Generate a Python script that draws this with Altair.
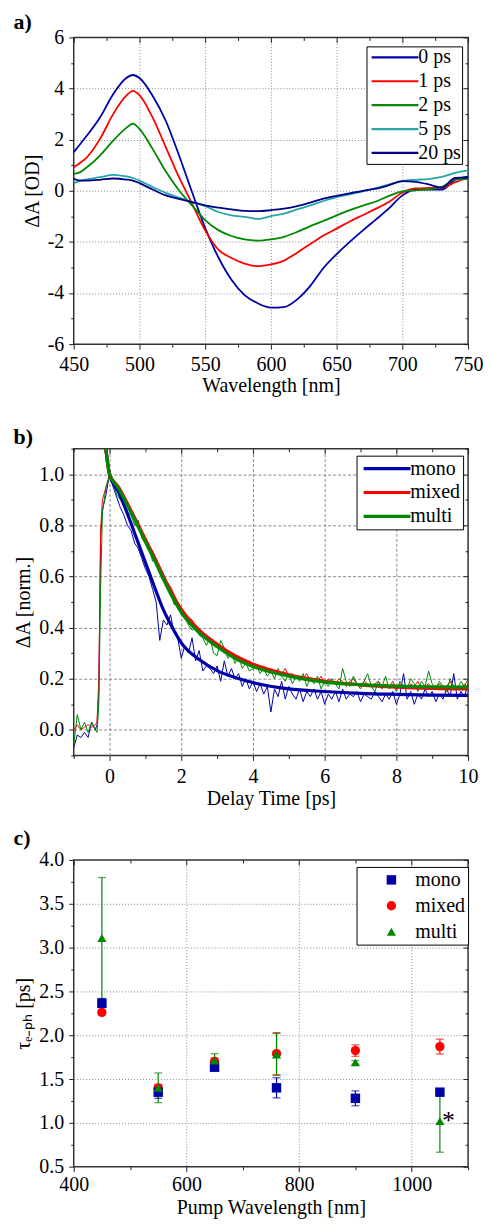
import altair as alt
import pandas as pd

FONT = "Liberation Serif"
GRID = "#8a8a8a"

# ---------------- panel a: transient spectra ----------------
WL = [450, 455, 460, 470, 480, 490, 495, 500, 510, 520, 530, 540, 550, 560, 570, 580, 590,
      600, 610, 620, 630, 640, 650, 660, 670, 680, 690, 700, 710, 720, 730, 740, 750]
A_0PS = [1.51, 1.83, 2.16, 2.87, 3.78, 4.41, 4.53, 4.41, 3.72, 2.74, 1.40, -0.05, -1.45, -2.60, -3.48, -4.08, -4.40,
         -4.57, -4.55, -4.25, -3.72, -3.02, -2.48, -2.00, -1.55, -1.12, -0.68, -0.18, 0.05, 0.05, 0.05, 0.42, 0.55]
A_1PS = [0.92, 1.10, 1.31, 2.03, 3.00, 3.72, 3.91, 3.74, 2.87, 1.71, 0.54, -0.50, -1.55, -2.30, -2.63, -2.85, -2.95,
         -2.88, -2.73, -2.42, -2.08, -1.75, -1.48, -1.20, -0.95, -0.70, -0.43, -0.07, 0.09, 0.11, 0.12, 0.33, 0.51]
A_2PS = [0.66, 0.73, 0.92, 1.38, 1.96, 2.46, 2.63, 2.42, 1.64, 0.76, 0.02, -0.57, -1.15, -1.54, -1.77, -1.90, -1.95,
         -1.90, -1.80, -1.61, -1.38, -1.18, -0.96, -0.76, -0.58, -0.42, -0.20, -0.02, 0.02, 0.06, 0.15, 0.44, 0.47]
A_5PS = [0.30, 0.40, 0.45, 0.53, 0.62, 0.56, 0.50, 0.40, 0.15, -0.08, -0.27, -0.44, -0.60, -0.83, -0.96, -1.02, -1.10,
         -0.99, -0.89, -0.73, -0.57, -0.40, -0.25, -0.14, -0.02, 0.10, 0.25, 0.38, 0.43, 0.46, 0.54, 0.70, 0.80]
A_20PS = [0.47, 0.40, 0.40, 0.43, 0.48, 0.44, 0.40, 0.30, 0.05, -0.18, -0.32, -0.44, -0.57, -0.66, -0.73, -0.79, -0.80,
          -0.76, -0.70, -0.60, -0.46, -0.31, -0.20, -0.10, 0.00, 0.08, 0.22, 0.38, 0.35, 0.25, 0.12, 0.50, 0.52]
A_SERIES = ["0 ps", "1 ps", "2 ps", "5 ps", "20 ps"]
A_COLORS = ["#0000A8", "#FF0000", "#008800", "#26A6A6", "#000088"]

# ---------------- panel b: kinetics ----------------
T = [-1.0, -0.9, -0.8, -0.7, -0.6, -0.5, -0.4, -0.35, -0.3, -0.25, -0.2, -0.1,
     0.0, 0.1, 0.2, 0.3, 0.4, 0.5, 0.6, 0.7, 0.8, 0.9,
     1.0, 1.1, 1.2, 1.3, 1.4, 1.5, 1.6, 1.7, 1.8, 1.9,
     2.0, 2.1, 2.2, 2.3, 2.4, 2.5, 2.6, 2.7, 2.8, 2.9,
     3.0, 3.1, 3.2, 3.3, 3.4, 3.5, 3.6, 3.7, 3.8, 3.9,
     4.0, 4.1, 4.2, 4.3, 4.4, 4.5, 4.6, 4.7, 4.8, 4.9,
     5.0, 5.1, 5.2, 5.3, 5.4, 5.5, 5.6, 5.7, 5.8, 5.9,
     6.0, 6.1, 6.2, 6.3, 6.4, 6.5, 6.6, 6.7, 6.8, 6.9,
     7.0, 7.1, 7.2, 7.3, 7.4, 7.5, 7.6, 7.7, 7.8, 7.9,
     8.0, 8.1, 8.2, 8.3, 8.4, 8.5, 8.6, 8.7, 8.8, 8.9,
     9.0, 9.1, 9.2, 9.3, 9.4, 9.5, 9.6, 9.7, 9.8, 9.9,
     10.0]
MONO_RAW = [-0.07, -0.02, -0.03, -0.01, -0.03, 0.03, 0.00, 0.02, 0.15, 0.75, 0.86, 0.92,
            1.00, 0.95, 0.91, 0.87, 0.84, 0.80, 0.78, 0.73, 0.71, 0.67,
            0.63, 0.60, 0.55, 0.50, 0.35, 0.43, 0.41, 0.45, 0.38, 0.36,
            0.28, 0.33, 0.30, 0.36, 0.27, 0.31, 0.23, 0.25, 0.24, 0.22,
            0.25, 0.19, 0.27, 0.21, 0.24, 0.20, 0.22, 0.17, 0.20, 0.16,
            0.19, 0.15, 0.18, 0.14, 0.17, 0.07, 0.16, 0.13, 0.19, 0.12,
            0.17, 0.14, 0.12, 0.16, 0.11, 0.15, 0.13, 0.16, 0.12, 0.15,
            0.10, 0.14, 0.12, 0.15, 0.11, 0.16, 0.12, 0.14, 0.13, 0.15,
            0.11, 0.14, 0.13, 0.12, 0.15, 0.13, 0.11, 0.14, 0.12, 0.15,
            0.10, 0.14, 0.22, 0.12, 0.15, 0.10, 0.14, 0.12, 0.16, 0.13,
            0.15, 0.11, 0.14, 0.12, 0.16, 0.13, 0.22, 0.12, 0.15, 0.13,
            0.18]
MIXED_RAW = [0.00, 0.02, 0.00, 0.01, 0.02, 0.01, 0.02, 0.03, 0.20, 0.78, 0.90, 0.95,
             1.00, 0.97, 0.95, 0.92, 0.90, 0.88, 0.85, 0.83, 0.80, 0.78,
             0.75, 0.72, 0.70, 0.67, 0.64, 0.61, 0.58, 0.56, 0.53, 0.50,
             0.48, 0.46, 0.44, 0.43, 0.41, 0.39, 0.37, 0.36, 0.35, 0.33,
             0.34, 0.32, 0.31, 0.30, 0.30, 0.28, 0.28, 0.27, 0.26, 0.27,
             0.25, 0.25, 0.24, 0.25, 0.23, 0.24, 0.22, 0.23, 0.22, 0.24,
             0.21, 0.22, 0.20, 0.21, 0.20, 0.22, 0.19, 0.20, 0.19, 0.21,
             0.18, 0.20, 0.19, 0.18, 0.20, 0.19, 0.17, 0.19, 0.20, 0.18,
             0.17, 0.19, 0.18, 0.17, 0.18, 0.19, 0.16, 0.18, 0.17, 0.19,
             0.16, 0.18, 0.17, 0.16, 0.18, 0.17, 0.19, 0.16, 0.17, 0.18,
             0.16, 0.17, 0.18, 0.16, 0.17, 0.19, 0.16, 0.17, 0.16, 0.18,
             0.16]
MULTI_RAW = [-0.06, 0.06, 0.00, 0.03, -0.01, 0.03, 0.00, -0.01, 0.10, 0.55, 0.85, 0.95,
             0.99, 0.97, 0.92, 0.90, 0.88, 0.85, 0.84, 0.80, 0.82, 0.75,
             0.73, 0.71, 0.66, 0.67, 0.62, 0.60, 0.56, 0.54, 0.49, 0.50,
             0.45, 0.44, 0.41, 0.39, 0.40, 0.37, 0.36, 0.33, 0.36, 0.30,
             0.29, 0.35, 0.32, 0.28, 0.30, 0.26, 0.29, 0.24, 0.26, 0.23,
             0.24, 0.25, 0.22, 0.24, 0.21, 0.23, 0.20, 0.24, 0.21, 0.19,
             0.22, 0.18, 0.21, 0.19, 0.22, 0.17, 0.20, 0.18, 0.21, 0.16,
             0.19, 0.17, 0.20, 0.18, 0.16, 0.24, 0.19, 0.17, 0.21, 0.18,
             0.16, 0.19, 0.22, 0.17, 0.15, 0.19, 0.17, 0.21, 0.16, 0.18,
             0.15, 0.19, 0.17, 0.16, 0.20, 0.18, 0.15, 0.19, 0.17, 0.23,
             0.18, 0.16, 0.19, 0.17, 0.15, 0.20, 0.17, 0.16, 0.19, 0.17,
             0.20]
FIT_T = [-0.12, 0.0, 0.25, 0.5, 0.75, 1.0, 1.25, 1.5, 1.75, 2.0, 2.5, 3.0, 3.5, 4.0, 5.0, 6.0, 7.0, 8.0, 9.0, 10.0]
MONO_FIT = [1.12, 1.0, 0.93, 0.845, 0.75, 0.655, 0.56, 0.47, 0.40, 0.34, 0.275, 0.232, 0.205, 0.185, 0.16, 0.15, 0.143, 0.139, 0.136, 0.135]
MIXED_FIT = [1.12, 1.0, 0.95, 0.885, 0.815, 0.745, 0.675, 0.60, 0.53, 0.47, 0.39, 0.335, 0.29, 0.257, 0.215, 0.19, 0.176, 0.167, 0.162, 0.16]
MULTI_FIT = [1.12, 1.0, 0.945, 0.878, 0.808, 0.735, 0.665, 0.59, 0.52, 0.46, 0.38, 0.325, 0.28, 0.248, 0.21, 0.187, 0.177, 0.171, 0.168, 0.167]
B_SERIES = ["mono", "mixed", "multi"]
B_COLORS = ["#0000A8", "#FF0000", "#008800"]

# ---------------- panel c: time constants ----------------
PUMP_WL = [450, 550, 650, 760, 900, 1050]
MONO_TAU = [2.365, 1.35, 1.635, 1.40, 1.28, 1.35]
MONO_ERR = [0.05, 0.07, 0.03, 0.115, 0.085, 0.03]
MIXED_TAU = [2.26, 1.40, 1.70, 1.79, 1.825, 1.87]
MIXED_ERR = [0.03, 0.04, 0.04, 0.24, 0.065, 0.085]
MULTI_TAU = [3.11, 1.40, 1.71, 1.78, 1.69, 1.02]
MULTI_ERR = [0.69, 0.17, 0.08, 0.24, 0.02, 0.355]
C_SHAPES = ["square", "circle", "triangle-up"]
C_SIZES = [90, 85, 130]
STAR_X = [1065]
STAR_Y = [1.08]
STAR_TEXT = ["*"]

# ---------------- tables ----------------
df_a = pd.concat([pd.DataFrame({"wl": WL, "val": v, "series": s})
                  for s, v in zip(A_SERIES, [A_0PS, A_1PS, A_2PS, A_5PS, A_20PS])], ignore_index=True)
df_braw = pd.concat([pd.DataFrame({"t": T, "val": v, "series": s})
                     for s, v in zip(B_SERIES, [MONO_RAW, MIXED_RAW, MULTI_RAW])], ignore_index=True)
df_bfit = pd.concat([pd.DataFrame({"t": FIT_T, "val": v, "series": s})
                     for s, v in zip(B_SERIES, [MONO_FIT, MIXED_FIT, MULTI_FIT])], ignore_index=True)
rows = []
for s, tau, err in [("mixed", MIXED_TAU, MIXED_ERR), ("mono", MONO_TAU, MONO_ERR), ("multi", MULTI_TAU, MULTI_ERR)]:
    for w, v, e in zip(PUMP_WL, tau, err):
        rows.append({"pw": w, "tau": v, "lo": v - e, "hi": v + e, "series": s})
df_c = pd.DataFrame(rows)
df_star = pd.DataFrame({"x": STAR_X, "y": STAR_Y, "txt": STAR_TEXT})

W, H = 396, 308


def axis_layers(xdom, ydom, xmaj, xmin, ymaj, ymin, xgrid, ygrid, xtitle, ytitle,
                xlab, ylab, dash, xlp, xtp, ytp, yminext, label, label_y):
    dom = pd.DataFrame({"ax": xdom, "ay": ydom})
    xs = alt.Scale(domain=xdom, nice=False, zero=False)
    ys = alt.Scale(domain=ydom, nice=False, zero=False)
    base = alt.Chart(dom).mark_point(opacity=0, size=1)

    def L(xa, ya):
        return base.encode(x=alt.X("ax:Q", scale=xs, axis=xa), y=alt.Y("ay:Q", scale=ys, axis=ya))

    def plain(orient, values, size, offset):
        return alt.Axis(orient=orient, values=values, grid=False, domain=False, ticks=True,
                        tickSize=size, tickWidth=1, tickColor="#222222", labels=False,
                        title=None, offset=offset, minExtent=0, maxExtent=0)

    grid = L(alt.Axis(orient="bottom", values=xgrid, grid=True, gridColor=GRID, gridDash=dash,
                      gridWidth=1, ticks=False, labels=False, domain=False, title=None, minExtent=0),
             alt.Axis(orient="left", values=ygrid, grid=True, gridColor=GRID, gridDash=dash,
                      gridWidth=1, ticks=False, labels=False, domain=False, title=None, minExtent=0))
    major = L(alt.Axis(orient="bottom", values=xmaj, grid=False, domain=False, ticks=True, tickSize=5,
                       tickWidth=1, tickColor="#222222", labelExpr=xlab, labelPadding=xlp,
                       labelFont=FONT, titleFont=FONT, labelFontSize=20, titleFontSize=20,
                       title=xtitle, titlePadding=xtp, minExtent=0),
              alt.Axis(orient="left", values=ymaj, grid=False, domain=False, ticks=True, tickSize=5,
                       tickWidth=1, tickColor="#222222", labelExpr=ylab, labelPadding=5,
                       labelFont=FONT, titleFont=FONT, labelFontSize=20, titleFontSize=20,
                       title=ytitle, titlePadding=ytp, minExtent=yminext))
    minor = L(plain("bottom", xmin, 3, 0), plain("left", ymin, 3, 0))
    # top axis carries the panel label ("a)", "b)", "c)") as its title
    top_x = alt.Axis(orient="top", values=xmaj, grid=False, domain=False, ticks=True,
                     tickSize=5, tickWidth=1, tickColor="#222222", labels=False,
                     offset=-5, minExtent=0, maxExtent=0,
                     title=label, titleX=-61, titleY=label_y, titleAlign="left", titleAngle=0,
                     titleBaseline="alphabetic", titleFont=FONT, titleFontSize=22,
                     titleFontWeight="bold", titleColor="black")
    topmaj = L(top_x, plain("right", ymaj, 5, -5))
    topmin = L(plain("top", xmin, 3, -3), plain("right", ymin, 3, -3))
    return xs, ys, grid, [major, minor, topmaj, topmin]


def line_legend(x, y, pad, width):
    return alt.Legend(orient="none", legendX=x, legendY=y, strokeColor="black", fillColor="white",
                      padding=pad, cornerRadius=0, symbolType="M-1,0H7", symbolSize=138,
                      symbolStrokeWidth=width, labelFont=FONT, labelFontSize=20, labelColor="black",
                      labelOffset=31, rowPadding=4, labelLimit=200)


# ---------------- panel a ----------------
xs, ys, grid_a, axes_a = axis_layers(
    [450, 750], [-6, 6],
    [450, 500, 550, 600, 650, 700, 750], [475, 525, 575, 625, 675, 725],
    [-6, -4, -2, 0, 2, 4, 6], [-5, -3, -1, 1, 3, 5],
    [500, 550, 600, 650, 700], [-4, -2, 0, 2, 4],
    "Wavelength [nm]", "ΔA [OD]", "'' + datum.value", "'' + datum.value", [1, 2], 5, 2, 1, 30,
    "a)", -14)
lines_a = alt.Chart(df_a).mark_line(strokeWidth=1.8, clip=True, interpolate="monotone").encode(
    x=alt.X("wl:Q", scale=xs, axis=None),
    y=alt.Y("val:Q", scale=ys, axis=None),
    color=alt.Color("series:N", scale=alt.Scale(domain=A_SERIES, range=A_COLORS), title=None,
                    legend=line_legend(294, 9, 1, 2.2)),
)
panel_a = alt.layer(grid_a, lines_a, *axes_a).resolve_axis(x="independent", y="independent").properties(
    width=W, height=H)

# ---------------- panel b ----------------
xs, ys, grid_b, axes_b = axis_layers(
    [-1, 10], [-0.1, 1.1],
    [0, 2, 4, 6, 8, 10], [-1, 1, 3, 5, 7, 9],
    [0, 0.2, 0.4, 0.6, 0.8, 1.0], [-0.1, 0.1, 0.3, 0.5, 0.7, 0.9, 1.1],
    [0, 2, 4, 6, 8], [0, 0.2, 0.4, 0.6, 0.8, 1.0],
    "Delay Time [ps]", "ΔA [norm.]", "'' + datum.value", "format(datum.value, '.1f')", [3, 2], 6, 2, 5, 30,
    "b)", -10)
raw_b = alt.Chart(df_braw).mark_line(strokeWidth=1.0, clip=True).encode(
    x=alt.X("t:Q", scale=xs, axis=None),
    y=alt.Y("val:Q", scale=ys, axis=None),
    color=alt.Color("series:N", scale=alt.Scale(domain=B_SERIES, range=B_COLORS), legend=None),
)
fit_b = alt.Chart(df_bfit).mark_line(strokeWidth=3.2, clip=True, interpolate="monotone").encode(
    x=alt.X("t:Q", scale=xs, axis=None),
    y=alt.Y("val:Q", scale=ys, axis=None),
    color=alt.Color("series:N", scale=alt.Scale(domain=B_SERIES, range=B_COLORS), title=None,
                    legend=line_legend(284, 7, 3, 3.2)),
)
panel_b = alt.layer(grid_b, raw_b, fit_b, *axes_b).resolve_axis(
    x="independent", y="independent").resolve_scale(color="independent").properties(
    width=W, height=H)

# ---------------- panel c ----------------
xs, ys, grid_c, axes_c = axis_layers(
    [400, 1100], [0.5, 4.0],
    [400, 600, 800, 1000], [500, 700, 900, 1100],
    [0.5, 1.0, 1.5, 2.0, 2.5, 3.0, 3.5, 4.0], [0.75, 1.25, 1.75, 2.25, 2.75, 3.25, 3.75],
    [600, 800, 1000], [1.0, 1.5, 2.0, 2.5, 3.0, 3.5],
    "Pump Wavelength [nm]", "τₑ₋ₚₕ [ps]", "'' + datum.value", "format(datum.value, '.1f')", [1, 2], 3, 3, 5, 30,
    "c)", -21)
cscale = alt.Scale(domain=B_SERIES, range=B_COLORS)
bars = alt.Chart(df_c).mark_rule(strokeWidth=1.2).encode(
    x=alt.X("pw:Q", scale=xs, axis=None),
    y=alt.Y("lo:Q", scale=ys, axis=None), y2="hi:Q",
    color=alt.Color("series:N", scale=cscale, legend=None),
)
cap_lo = alt.Chart(df_c).mark_tick(orient="horizontal", size=8, thickness=1.2).encode(
    x=alt.X("pw:Q", scale=xs, axis=None),
    y=alt.Y("lo:Q", scale=ys, axis=None),
    color=alt.Color("series:N", scale=cscale, legend=None),
)
cap_hi = alt.Chart(df_c).mark_tick(orient="horizontal", size=8, thickness=1.2).encode(
    x=alt.X("pw:Q", scale=xs, axis=None),
    y=alt.Y("hi:Q", scale=ys, axis=None),
    color=alt.Color("series:N", scale=cscale, legend=None),
)
leg_c = alt.Legend(orient="none", legendX=284, legendY=7, strokeColor="black", fillColor="white",
                   padding=3, cornerRadius=0, symbolSize=110, symbolOffset=22, labelFont=FONT,
                   labelFontSize=20, labelColor="black", labelOffset=14, rowPadding=6)
pts = alt.Chart(df_c).mark_point(filled=True, opacity=1).encode(
    x=alt.X("pw:Q", scale=xs, axis=None),
    y=alt.Y("tau:Q", scale=ys, axis=None),
    color=alt.Color("series:N", scale=cscale, title=None, legend=leg_c),
    shape=alt.Shape("series:N", scale=alt.Scale(domain=B_SERIES, range=C_SHAPES), title=None, legend=leg_c),
    size=alt.Size("series:N", scale=alt.Scale(domain=B_SERIES, range=C_SIZES), legend=None),
)
star = alt.Chart(df_star).mark_text(font=FONT, fontSize=26, color="black", baseline="middle", dy=5).encode(
    x=alt.X("x:Q", scale=xs, axis=None),
    y=alt.Y("y:Q", scale=ys, axis=None),
    text="txt:N",
)
panel_c = alt.layer(grid_c, bars, cap_lo, cap_hi, pts, star, *axes_c).resolve_axis(
    x="independent", y="independent").resolve_scale(
    color="independent", shape="independent", size="independent").properties(width=W, height=H)

chart = alt.vconcat(panel_a, panel_b, panel_c, spacing=105, bounds="flush").resolve_scale(
    color="independent", shape="independent", size="independent"
).properties(
    padding={"left": 4, "top": -1, "right": 0, "bottom": 0}
).configure_view(
    stroke="#333333", strokeWidth=1.5
).configure_axis(
    labelFont=FONT, titleFont=FONT, labelFontSize=20, titleFontSize=20, labelColor="black",
    titleColor="black", titleFontWeight="normal", labelFlush=False, labelOverlap=False
)

chart.save("out.html", embed_options={"renderer": "svg", "actions": False})
